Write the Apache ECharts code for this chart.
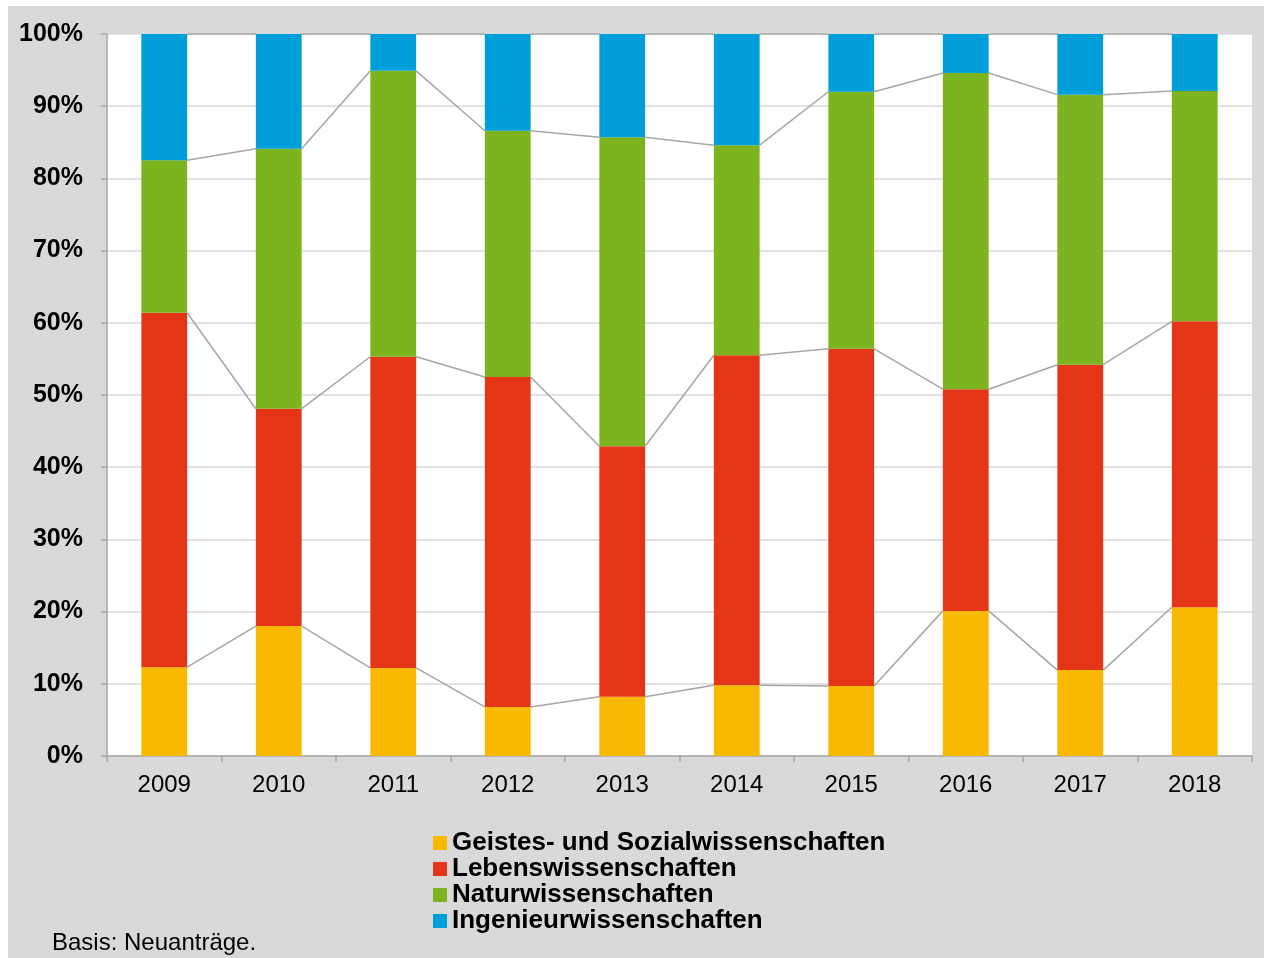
<!DOCTYPE html>
<html>
<head>
<meta charset="utf-8">
<script src="https://cdn.jsdelivr.net/npm/echarts@6/dist/echarts.min.js"></script>
<style>
    html, body { margin: 0; padding: 0; background: #fff; }
    #chart-main { position: absolute; left: 8px; top: 6px; width: 1256px; height: 952px; }
</style>
</head>
<body>
<div id="chart-main"></div>
<script>
    var years = ['2009', '2010', '2011', '2012', '2013', '2014', '2015', '2016', '2017', '2018'];
    var geistes = [12.3, 18.0, 12.2, 6.8, 8.2, 9.8, 9.7, 20.1, 11.9, 20.6];
    var lebens = [49.1, 30.1, 43.1, 45.7, 34.7, 45.7, 46.7, 30.7, 42.3, 39.6];
    var natur = [21.1, 36.0, 39.6, 34.1, 42.8, 29.1, 35.6, 43.8, 37.4, 31.9];
    var ingenieur = [17.5, 15.9, 5.1, 13.4, 14.3, 15.4, 8.0, 5.4, 8.4, 7.9];
    var seriesNames = ['Geistes- und Sozialwissenschaften', 'Lebenswissenschaften', 'Naturwissenschaften', 'Ingenieurwissenschaften'];
    var colors = ['#f9b900', '#e43518', '#7db31f', '#009fda'];

    // cumulative tops for the connecting lines between bars
    var stacks = [geistes, lebens, natur, ingenieur];
    var cumul = years.map(function (_, i) {
        var sum = 0;
        return stacks.map(function (s) { sum += s[i]; return sum; });
    });
    var lineData = [];
    for (var i = 0; i < years.length - 1; i++) {
        for (var k = 0; k < stacks.length; k++) {
            lineData.push([i, cumul[i][k], cumul[i + 1][k]]);
        }
    }

    var barSeries = stacks.map(function (s, idx) {
        return {
            name: seriesNames[idx],
            type: 'bar',
            stack: 'total',
            barWidth: '40%',
            itemStyle: {color: colors[idx]},
            data: s
        };
    });

    var option = {
        backgroundColor: '#d9d9d9',
        animation: false,
        color: colors,
        grid: {
            left: 99, right: 12, top: 28, bottom: 202,
            show: true, backgroundColor: '#ffffff', borderWidth: 0
        },
        legend: {
            orient: 'vertical',
            left: 420,
            top: 819,
            itemWidth: 14,
            itemHeight: 14,
            itemGap: 0,
            icon: 'rect',
            data: seriesNames,
            textStyle: {
                fontFamily: 'Liberation Sans, Arial, sans-serif',
                fontWeight: 'bold',
                fontSize: 26,
                lineHeight: 26,
                color: '#000'
            }
        },
        xAxis: {
            type: 'category',
            data: years,
            axisLine: {lineStyle: {color: '#a6a6a6', width: 1.5}},
            axisTick: {show: true, length: 6, lineStyle: {color: '#a6a6a6', width: 1.5}},
            axisLabel: {
                margin: 17,
                color: '#000',
                fontSize: 24,
                fontFamily: 'Liberation Sans, Arial, sans-serif'
            }
        },
        yAxis: {
            type: 'value',
            min: 0,
            max: 100,
            interval: 10,
            axisLine: {show: true, lineStyle: {color: '#a6a6a6', width: 1.5}},
            axisTick: {show: true, length: 6, lineStyle: {color: '#a6a6a6', width: 1.5}},
            splitLine: {lineStyle: {color: '#d9d9d9', width: 1.5}},
            axisLabel: {
                formatter: '{value}%',
                margin: 24,
                color: '#000',
                fontSize: 25,
                fontWeight: 'bold',
                fontFamily: 'Liberation Sans, Arial, sans-serif'
            }
        },
        graphic: [{
            type: 'text',
            left: 44,
            top: 925,
            style: {
                text: 'Basis: Neuanträge.',
                fontSize: 24,
                fontFamily: 'Liberation Sans, Arial, sans-serif',
                fill: '#000'
            }
        }],
        series: barSeries.concat([{
            type: 'custom',
            name: 'lines',
            silent: true,
            z: 1,
            data: lineData,
            encode: {x: 0, y: 1},
            renderItem: function (params, api) {
                var idx = api.value(0);
                var p1 = api.coord([idx, api.value(1)]);
                var p2 = api.coord([idx + 1, api.value(2)]);
                var half = api.size([1, 0])[0] * 0.4 / 2;
                return {
                    type: 'line',
                    shape: {x1: p1[0] + half, y1: p1[1], x2: p2[0] - half, y2: p2[1]},
                    style: {stroke: '#a6a6a6', lineWidth: 1.5}
                };
            }
        }])
    };

    var myChart = echarts.init(document.getElementById('chart-main'));
    myChart.setOption(option);
</script>
</body>
</html>
